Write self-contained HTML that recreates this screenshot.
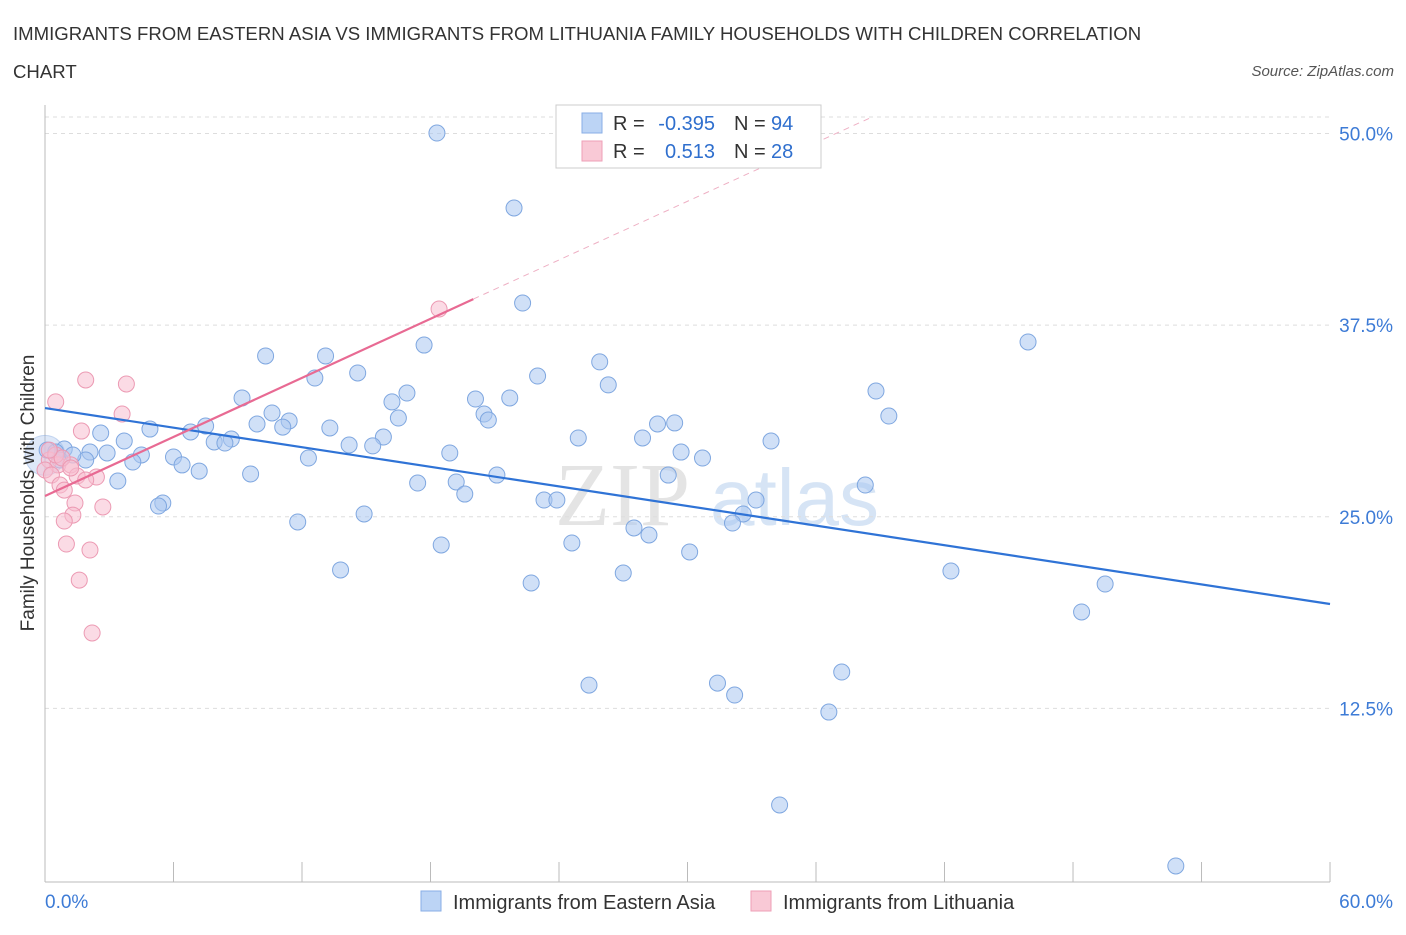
<!DOCTYPE html>
<html><head><meta charset="utf-8"><style>
body{margin:0;background:#fff;font-family:"Liberation Sans",sans-serif}
</style></head><body>
<svg id="chart" width="1406" height="930" xmlns="http://www.w3.org/2000/svg" font-family="Liberation Sans, sans-serif">
<text x="13" y="40" font-size="18.6" fill="#333">IMMIGRANTS FROM EASTERN ASIA VS IMMIGRANTS FROM LITHUANIA FAMILY HOUSEHOLDS WITH CHILDREN CORRELATION</text>
<text x="13" y="78" font-size="18.6" fill="#333">CHART</text>
<text x="1394" y="76" font-size="15" fill="#555" font-style="italic" text-anchor="end">Source: ZipAtlas.com</text>
<text x="555" y="525" font-size="90" fill="#e4e4e4" font-family="Liberation Serif, serif">ZIP</text>
<text x="710" y="525" font-size="80" fill="#d6e4f5">atlas</text>
<g id="grid"></g><g id="marks"></g>
<text transform="translate(34,493) rotate(-90)" font-size="19" fill="#333" text-anchor="middle">Family Households with Children</text>
<g>
<rect x="556" y="105" width="265" height="63" fill="#fff" stroke="#ccc"/>
<rect x="582" y="113" width="20" height="20" fill="#bcd4f5" stroke="#88aee6"/>
<rect x="582" y="141" width="20" height="20" fill="#f9c9d6" stroke="#ee9fb7"/>
<text x="613" y="130" font-size="20" fill="#333">R =</text>
<text x="715" y="130" font-size="20" fill="#2f6fce" text-anchor="end">-0.395</text>
<text x="734" y="130" font-size="20" fill="#333">N =</text>
<text x="771" y="130" font-size="20" fill="#2f6fce">94</text>
<text x="613" y="158" font-size="20" fill="#333">R =</text>
<text x="715" y="158" font-size="20" fill="#2f6fce" text-anchor="end">0.513</text>
<text x="734" y="158" font-size="20" fill="#333">N =</text>
<text x="771" y="158" font-size="20" fill="#2f6fce">28</text>
</g>
<g>
<rect x="421" y="891" width="20" height="20" fill="#bcd4f5" stroke="#88aee6"/>
<text x="453" y="909" font-size="20" fill="#333">Immigrants from Eastern Asia</text>
<rect x="751" y="891" width="20" height="20" fill="#f9c9d6" stroke="#ee9fb7"/>
<text x="783" y="909" font-size="20" fill="#333">Immigrants from Lithuania</text>
</g>
</svg>
<script>
const yTicks=[12.5,25,37.5,50];
const yTickLabels=["12.5%","25.0%","37.5%","50.0%"];
const xTicks=[0,6,12,18,24,30,36,42,48,54,60];
const blueX=[18.3,21.9,22.3,17.7,10.3,13.1,25.9,14.6,12.6,23,26.3,16.9,38.8,45.9,9.2,16.2,20.1,21.7,20.5,20.7,16.5,10.6,11.4,9.9,11.1,7.5,13.3,6.8,4.9,2.6,3.7,7.9,8.7,8.4,15.8,14.2,15.3,24.9,27.9,28.6,29.4,39.4,33.9,29.7,30.7,18.9,4.5,2.9,2.1,0.9,0.5,1.9,4.1,6,6.4,7.2,9.6,12.3,21.1,29.1,3.4,17.4,19.2,19.6,38.3,23.3,23.9,33.2,32.6,32.1,5.5,5.3,14.9,11.8,27.5,28.2,24.6,18.5,30.1,13.8,22.7,27,42.3,49.5,48.4,25.4,31.4,32.2,37.2,36.6,34.3,52.8,0.1,0.7,1.3];
const blueY=[50.03,45.14,38.94,36.2,35.49,35.49,35.1,34.38,34.05,34.18,33.6,33.07,33.2,36.4,32.75,32.49,32.68,32.75,31.7,31.31,31.44,31.77,31.25,31.05,30.85,30.92,30.79,30.53,30.72,30.46,29.94,29.88,30.07,29.81,30.2,29.68,29.62,30.14,30.14,31.05,31.12,31.57,29.94,29.22,28.83,29.16,29.03,29.16,29.22,29.42,29.22,28.7,28.57,28.9,28.38,27.98,27.79,28.83,27.72,27.72,27.33,27.2,27.27,26.48,27.07,26.09,26.09,26.09,25.18,24.59,25.9,25.7,25.18,24.66,24.27,23.81,23.29,23.16,22.7,21.53,20.68,21.33,21.46,20.61,18.79,14.02,14.15,13.37,14.87,12.26,6.2,2.22,29.35,28.7,29.03];
const pinkX=[0.5,1.9,3.8,3.6,1.7,0.2,0.6,1.2,0,0.3,1.5,2.4,1.9,0.7,0.9,1.4,2.7,1.3,0.9,1,2.1,1.6,2.2,18.4,0.5,0.8,1.2,0.2];
const pinkY=[32.49,33.92,33.66,31.7,30.59,28.7,28.38,28.38,28.05,27.72,27.66,27.59,27.4,27.07,26.74,25.9,25.64,25.11,24.72,23.22,22.83,20.87,17.42,38.55,29.03,28.83,28.18,29.35];
const blueTrend=[[0,32.09],[60,19.31]];
const pinkTrend=[[0,26.35],[20,39.2]];
const pinkDash=[[20,39.2],[38.5,51.0]];
const X=v=>45+v*21.417, Y=v=>900-v*15.33;
const NS="http://www.w3.org/2000/svg";
function mk(t,a,p){const e=document.createElementNS(NS,t);for(const k in a)e.setAttribute(k,a[k]);p.appendChild(e);return e;}
const grid=document.getElementById('grid'),marks=document.getElementById('marks');
yTicks.forEach((v,i)=>{
 const l=mk('line',{x1:45,x2:1330,y1:Y(v),y2:Y(v),stroke:'#ddd','stroke-dasharray':'4,4'},grid);
 
 
 const t=mk('text',{x:1393,y:Y(v)+7,'font-size':19,fill:'#3d7bd6','text-anchor':'end'},grid);
 t.textContent=yTickLabels[i];
 
 
});
const topLine=mk('line',{x1:45,x2:1330,y1:117,y2:117,stroke:'#ddd','stroke-dasharray':'4,4'},grid);


const ya=mk('line',{x1:45,x2:45,y1:105,y2:882,stroke:'#bbb'},grid);


const xa=mk('line',{x1:45,x2:1330,y1:882,y2:882,stroke:'#bbb'},grid);


xTicks.forEach(v=>{const l=mk('line',{x1:X(v),x2:X(v),y1:862,y2:882,stroke:'#bbb'},grid);
 
 });
const xMin=mk('text',{x:45,y:908,'font-size':19,fill:'#3d7bd6'},grid);xMin.textContent='0.0%';


const xMax=mk('text',{x:1393,y:908,'font-size':19,fill:'#3d7bd6','text-anchor':'end'},grid);xMax.textContent='60.0%';


const big=mk('circle',{cx:X(0),cy:Y(29.0),r:20,fill:'rgba(160,190,235,0.35)',stroke:'rgba(120,160,220,0.4)'},marks);


blueX.forEach((v,i)=>{const c=mk('circle',{cx:X(v),cy:Y(blueY[i]),r:8,fill:'rgba(170,198,240,0.55)',stroke:'#7fa7e0','stroke-width':1},marks);
 
 });
pinkX.forEach((v,i)=>{const c=mk('circle',{cx:X(v),cy:Y(pinkY[i]),r:8,fill:'rgba(248,190,208,0.55)',stroke:'#ec9ab3','stroke-width':1},marks);
 
 });
const bt=mk('line',{x1:X(blueTrend[0][0]),y1:Y(blueTrend[0][1]),x2:X(blueTrend[1][0]),y2:Y(blueTrend[1][1]),stroke:'#2f73d6','stroke-width':2.2},marks);


const pt=mk('line',{x1:X(pinkTrend[0][0]),y1:Y(pinkTrend[0][1]),x2:X(pinkTrend[1][0]),y2:Y(pinkTrend[1][1]),stroke:'#e86a93','stroke-width':2.2},marks);


const pd=mk('line',{x1:X(pinkDash[0][0]),y1:Y(pinkDash[0][1]),x2:X(pinkDash[1][0]),y2:Y(pinkDash[1][1]),stroke:'#eeb0c4','stroke-width':1,'stroke-dasharray':'6,5'},marks);


</script>
</body></html>
